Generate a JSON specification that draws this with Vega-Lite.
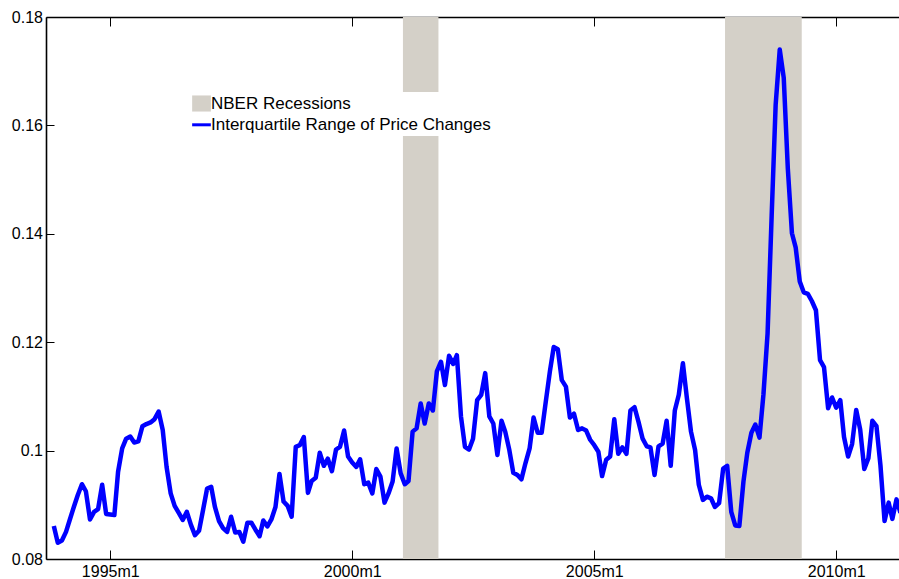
{
  "$schema": "https://vega.github.io/schema/vega-lite/v6.json",
  "width": 853,
  "height": 542,
  "autosize": {"type": "none"},
  "padding": {"left": 46, "top": 17, "right": 0, "bottom": 20},
  "background": "white",
  "config": {
    "view": {"stroke": null},
    "font": "Liberation Sans",
    "axis": {
      "domainColor": "black",
      "domainWidth": 1.6,
      "tickColor": "black",
      "tickWidth": 1,
      "labelFont": "Liberation Sans",
      "labelFontSize": 16,
      "labelColor": "black",
      "grid": false,
      "title": null
    }
  },
  "datasets": {
    "nber": [
      {"start": "2001-01-18", "end": "2001-10-13"},
      {"start": "2007-09-15", "end": "2009-04-16"}
    ],
    "iqr": [
      {"month": "1993-11", "iqr": 0.0861}, {"month": "1993-12", "iqr": 0.0830},
      {"month": "1994-01", "iqr": 0.0834}, {"month": "1994-02", "iqr": 0.0850}, {"month": "1994-03", "iqr": 0.0872}, {"month": "1994-04", "iqr": 0.0896},
      {"month": "1994-05", "iqr": 0.0918}, {"month": "1994-06", "iqr": 0.0938}, {"month": "1994-07", "iqr": 0.0925}, {"month": "1994-08", "iqr": 0.0873},
      {"month": "1994-09", "iqr": 0.0887}, {"month": "1994-10", "iqr": 0.0892}, {"month": "1994-11", "iqr": 0.0937}, {"month": "1994-12", "iqr": 0.0883},
      {"month": "1995-01", "iqr": 0.0882}, {"month": "1995-02", "iqr": 0.0881}, {"month": "1995-03", "iqr": 0.0961}, {"month": "1995-04", "iqr": 0.1004},
      {"month": "1995-05", "iqr": 0.1022}, {"month": "1995-06", "iqr": 0.1026}, {"month": "1995-07", "iqr": 0.1015}, {"month": "1995-08", "iqr": 0.1017},
      {"month": "1995-09", "iqr": 0.1045}, {"month": "1995-10", "iqr": 0.1049}, {"month": "1995-11", "iqr": 0.1052}, {"month": "1995-12", "iqr": 0.1058},
      {"month": "1996-01", "iqr": 0.1072}, {"month": "1996-02", "iqr": 0.1038}, {"month": "1996-03", "iqr": 0.0970}, {"month": "1996-04", "iqr": 0.0921},
      {"month": "1996-05", "iqr": 0.0898}, {"month": "1996-06", "iqr": 0.0885}, {"month": "1996-07", "iqr": 0.0872}, {"month": "1996-08", "iqr": 0.0887},
      {"month": "1996-09", "iqr": 0.0863}, {"month": "1996-10", "iqr": 0.0844}, {"month": "1996-11", "iqr": 0.0852}, {"month": "1996-12", "iqr": 0.0890},
      {"month": "1997-01", "iqr": 0.0930}, {"month": "1997-02", "iqr": 0.0933}, {"month": "1997-03", "iqr": 0.0896}, {"month": "1997-04", "iqr": 0.0870},
      {"month": "1997-05", "iqr": 0.0857}, {"month": "1997-06", "iqr": 0.0850}, {"month": "1997-07", "iqr": 0.0878}, {"month": "1997-08", "iqr": 0.0849},
      {"month": "1997-09", "iqr": 0.0850}, {"month": "1997-10", "iqr": 0.0832}, {"month": "1997-11", "iqr": 0.0867}, {"month": "1997-12", "iqr": 0.0867},
      {"month": "1998-01", "iqr": 0.0854}, {"month": "1998-02", "iqr": 0.0842}, {"month": "1998-03", "iqr": 0.0871}, {"month": "1998-04", "iqr": 0.0860},
      {"month": "1998-05", "iqr": 0.0873}, {"month": "1998-06", "iqr": 0.0896}, {"month": "1998-07", "iqr": 0.0957}, {"month": "1998-08", "iqr": 0.0906},
      {"month": "1998-09", "iqr": 0.0898}, {"month": "1998-10", "iqr": 0.0878}, {"month": "1998-11", "iqr": 0.1007}, {"month": "1998-12", "iqr": 0.1010},
      {"month": "1999-01", "iqr": 0.1025}, {"month": "1999-02", "iqr": 0.0922}, {"month": "1999-03", "iqr": 0.0944}, {"month": "1999-04", "iqr": 0.0950},
      {"month": "1999-05", "iqr": 0.0996}, {"month": "1999-06", "iqr": 0.0972}, {"month": "1999-07", "iqr": 0.0985}, {"month": "1999-08", "iqr": 0.0962},
      {"month": "1999-09", "iqr": 0.1002}, {"month": "1999-10", "iqr": 0.1007}, {"month": "1999-11", "iqr": 0.1037}, {"month": "1999-12", "iqr": 0.0989},
      {"month": "2000-01", "iqr": 0.0978}, {"month": "2000-02", "iqr": 0.0970}, {"month": "2000-03", "iqr": 0.0984}, {"month": "2000-04", "iqr": 0.0938},
      {"month": "2000-05", "iqr": 0.0941}, {"month": "2000-06", "iqr": 0.0921}, {"month": "2000-07", "iqr": 0.0966}, {"month": "2000-08", "iqr": 0.0952},
      {"month": "2000-09", "iqr": 0.0904}, {"month": "2000-10", "iqr": 0.0921}, {"month": "2000-11", "iqr": 0.0943}, {"month": "2000-12", "iqr": 0.1004},
      {"month": "2001-01", "iqr": 0.0958}, {"month": "2001-02", "iqr": 0.0938}, {"month": "2001-03", "iqr": 0.0944}, {"month": "2001-04", "iqr": 0.1035},
      {"month": "2001-05", "iqr": 0.1041}, {"month": "2001-06", "iqr": 0.1087}, {"month": "2001-07", "iqr": 0.1050}, {"month": "2001-08", "iqr": 0.1087},
      {"month": "2001-09", "iqr": 0.1074}, {"month": "2001-10", "iqr": 0.1146}, {"month": "2001-11", "iqr": 0.1164}, {"month": "2001-12", "iqr": 0.1121},
      {"month": "2002-01", "iqr": 0.1175}, {"month": "2002-02", "iqr": 0.1160}, {"month": "2002-03", "iqr": 0.1176}, {"month": "2002-04", "iqr": 0.1063},
      {"month": "2002-05", "iqr": 0.1007}, {"month": "2002-06", "iqr": 0.1002}, {"month": "2002-07", "iqr": 0.1022}, {"month": "2002-08", "iqr": 0.1093},
      {"month": "2002-09", "iqr": 0.1103}, {"month": "2002-10", "iqr": 0.1143}, {"month": "2002-11", "iqr": 0.1063}, {"month": "2002-12", "iqr": 0.1050},
      {"month": "2003-01", "iqr": 0.0992}, {"month": "2003-02", "iqr": 0.1055}, {"month": "2003-03", "iqr": 0.1035}, {"month": "2003-04", "iqr": 0.1001},
      {"month": "2003-05", "iqr": 0.0959}, {"month": "2003-06", "iqr": 0.0955}, {"month": "2003-07", "iqr": 0.0947}, {"month": "2003-08", "iqr": 0.0977},
      {"month": "2003-09", "iqr": 0.1004}, {"month": "2003-10", "iqr": 0.1061}, {"month": "2003-11", "iqr": 0.1033}, {"month": "2003-12", "iqr": 0.1033},
      {"month": "2004-01", "iqr": 0.1090}, {"month": "2004-02", "iqr": 0.1146}, {"month": "2004-03", "iqr": 0.1191}, {"month": "2004-04", "iqr": 0.1187},
      {"month": "2004-05", "iqr": 0.1130}, {"month": "2004-06", "iqr": 0.1118}, {"month": "2004-07", "iqr": 0.1061}, {"month": "2004-08", "iqr": 0.1068},
      {"month": "2004-09", "iqr": 0.1038}, {"month": "2004-10", "iqr": 0.1041}, {"month": "2004-11", "iqr": 0.1037}, {"month": "2004-12", "iqr": 0.1020},
      {"month": "2005-01", "iqr": 0.1010}, {"month": "2005-02", "iqr": 0.0998}, {"month": "2005-03", "iqr": 0.0953}, {"month": "2005-04", "iqr": 0.0983},
      {"month": "2005-05", "iqr": 0.0989}, {"month": "2005-06", "iqr": 0.1058}, {"month": "2005-07", "iqr": 0.0994}, {"month": "2005-08", "iqr": 0.1006},
      {"month": "2005-09", "iqr": 0.0994}, {"month": "2005-10", "iqr": 0.1074}, {"month": "2005-11", "iqr": 0.1080}, {"month": "2005-12", "iqr": 0.1053},
      {"month": "2006-01", "iqr": 0.1022}, {"month": "2006-02", "iqr": 0.1008}, {"month": "2006-03", "iqr": 0.1006}, {"month": "2006-04", "iqr": 0.0955},
      {"month": "2006-05", "iqr": 0.1008}, {"month": "2006-06", "iqr": 0.1013}, {"month": "2006-07", "iqr": 0.1055}, {"month": "2006-08", "iqr": 0.0972},
      {"month": "2006-09", "iqr": 0.1074}, {"month": "2006-10", "iqr": 0.1103}, {"month": "2006-11", "iqr": 0.1161}, {"month": "2006-12", "iqr": 0.1097},
      {"month": "2007-01", "iqr": 0.1035}, {"month": "2007-02", "iqr": 0.1001}, {"month": "2007-03", "iqr": 0.0937}, {"month": "2007-04", "iqr": 0.0909},
      {"month": "2007-05", "iqr": 0.0915}, {"month": "2007-06", "iqr": 0.0912}, {"month": "2007-07", "iqr": 0.0896}, {"month": "2007-08", "iqr": 0.0903},
      {"month": "2007-09", "iqr": 0.0967}, {"month": "2007-10", "iqr": 0.0972}, {"month": "2007-11", "iqr": 0.0887}, {"month": "2007-12", "iqr": 0.0862},
      {"month": "2008-01", "iqr": 0.0861}, {"month": "2008-02", "iqr": 0.0943}, {"month": "2008-03", "iqr": 0.0996}, {"month": "2008-04", "iqr": 0.1033},
      {"month": "2008-05", "iqr": 0.1048}, {"month": "2008-06", "iqr": 0.1024}, {"month": "2008-07", "iqr": 0.1104}, {"month": "2008-08", "iqr": 0.1216},
      {"month": "2008-09", "iqr": 0.1434}, {"month": "2008-10", "iqr": 0.1638}, {"month": "2008-11", "iqr": 0.1740}, {"month": "2008-12", "iqr": 0.1688},
      {"month": "2009-01", "iqr": 0.1520}, {"month": "2009-02", "iqr": 0.1401}, {"month": "2009-03", "iqr": 0.1375}, {"month": "2009-04", "iqr": 0.1312},
      {"month": "2009-05", "iqr": 0.1292}, {"month": "2009-06", "iqr": 0.1289}, {"month": "2009-07", "iqr": 0.1276}, {"month": "2009-08", "iqr": 0.1259},
      {"month": "2009-09", "iqr": 0.1167}, {"month": "2009-10", "iqr": 0.1154}, {"month": "2009-11", "iqr": 0.1078}, {"month": "2009-12", "iqr": 0.1098},
      {"month": "2010-01", "iqr": 0.1079}, {"month": "2010-02", "iqr": 0.1093}, {"month": "2010-03", "iqr": 0.1025}, {"month": "2010-04", "iqr": 0.0989},
      {"month": "2010-05", "iqr": 0.1012}, {"month": "2010-06", "iqr": 0.1075}, {"month": "2010-07", "iqr": 0.1039}, {"month": "2010-08", "iqr": 0.0966},
      {"month": "2010-09", "iqr": 0.0986}, {"month": "2010-10", "iqr": 0.1055}, {"month": "2010-11", "iqr": 0.1045}, {"month": "2010-12", "iqr": 0.0973},
      {"month": "2011-01", "iqr": 0.0870}, {"month": "2011-02", "iqr": 0.0904}, {"month": "2011-03", "iqr": 0.0874}, {"month": "2011-04", "iqr": 0.0910},
      {"month": "2011-05", "iqr": 0.0885}
    ]
  },
  "resolve": {"axis": {"x": "independent"}},
  "layer": [
    {
      "data": {"name": "nber"},
      "mark": {"type": "rect"},
      "encoding": {
        "x": {
          "field": "start",
          "type": "temporal",
          "scale": {
            "type": "utc",
            "nice": false,
            "domain": [
              {"year": 1993, "month": 9, "date": 3, "utc": true},
              {"year": 2011, "month": 4, "date": 20, "utc": true}
            ]
          },
          "axis": {
            "orient": "top",
            "labels": false,
            "tickSize": -9,
            "values": [
              {"year": 1995, "month": 1, "date": 1, "utc": true},
              {"year": 2000, "month": 1, "date": 1, "utc": true},
              {"year": 2005, "month": 1, "date": 1, "utc": true},
              {"year": 2010, "month": 1, "date": 1, "utc": true}
            ]
          }
        },
        "x2": {"field": "end"},
        "color": {
          "datum": "NBER Recessions",
          "type": "nominal",
          "scale": {
            "domain": ["NBER Recessions", "Interquartile Range of Price Changes"],
            "range": ["#d4d0c8", "#0000ff"]
          },
          "legend": {
            "orient": "none",
            "legendX": 144,
            "legendY": 75,
            "padding": 3,
            "fillColor": "white",
            "strokeColor": null,
            "title": null,
            "symbolSize": 350,
            "rowPadding": 3.3,
            "labelOffset": 1,
            "labelLimit": 500,
            "labelFont": "Liberation Sans",
            "labelFontSize": 17,
            "labelColor": "black",
            "encode": {
              "symbols": {
                "update": {
                  "shape": {"signal": "datum.value === 'NBER Recessions' ? 'M-1,-0.86H1V0.86H-1Z' : 'stroke'"},
                  "fill": {"signal": "datum.value === 'NBER Recessions' ? '#d4d0c8' : 'transparent'"},
                  "stroke": {"signal": "datum.value === 'NBER Recessions' ? 'transparent' : '#0000ff'"},
                  "strokeWidth": {"signal": "datum.value === 'NBER Recessions' ? 0 : 3"},
                  "opacity": {"value": 1}
                }
              }
            }
          }
        }
      }
    },
    {
      "data": {"name": "iqr"},
      "mark": {"type": "line", "strokeWidth": 4.5, "clip": true, "strokeJoin": "round"},
      "encoding": {
        "x": {
          "field": "month",
          "type": "temporal",
          "axis": {
            "orient": "bottom",
            "tickSize": -9,
            "labelPadding": 13,
            "labelExpr": "utcFormat(datum.value, '%Y') + 'm1'",
            "values": [
              {"year": 1995, "month": 1, "date": 1, "utc": true},
              {"year": 2000, "month": 1, "date": 1, "utc": true},
              {"year": 2005, "month": 1, "date": 1, "utc": true},
              {"year": 2010, "month": 1, "date": 1, "utc": true}
            ]
          }
        },
        "y": {
          "field": "iqr",
          "type": "quantitative",
          "scale": {"domain": [0.08, 0.18], "nice": false, "zero": false},
          "axis": {
            "tickSize": -8,
            "labelPadding": 11.5,
            "format": "~g",
            "values": [0.08, 0.1, 0.12, 0.14, 0.16, 0.18]
          }
        },
        "color": {"datum": "Interquartile Range of Price Changes", "type": "nominal"}
      }
    }
  ]
}
